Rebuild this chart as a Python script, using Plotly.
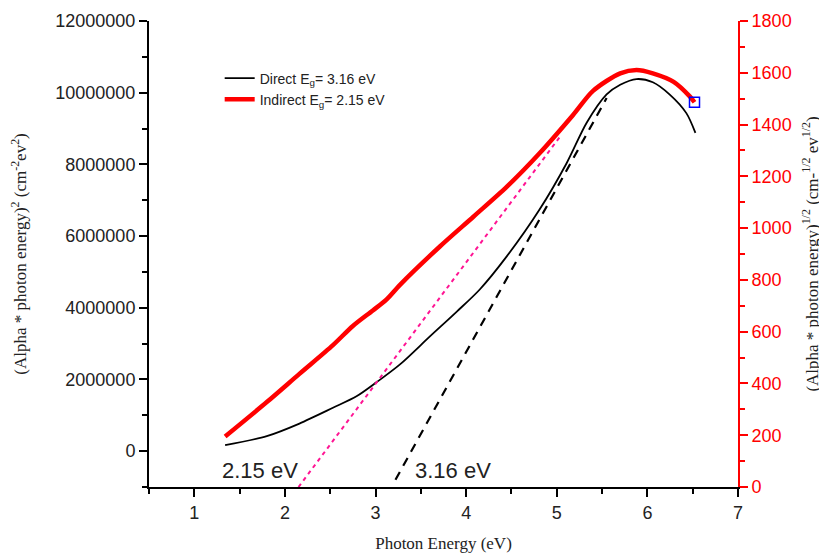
import plotly.graph_objects as go

# ---- data ----
energy_direct = [1.34, 1.80, 2.16, 2.53, 2.79, 3.01, 3.27, 3.60, 3.90, 4.15, 4.45, 4.81,
                 5.11, 5.33, 5.55, 5.70, 5.88, 6.06, 6.25, 6.43, 6.53]
direct_vals = [0.167e6, 0.42e6, 0.77e6, 1.21e6, 1.53e6, 1.92e6, 2.42e6, 3.20e6, 3.90e6,
               4.51e6, 5.44e6, 6.74e6, 8.04e6, 9.16e6, 9.95e6, 10.22e6, 10.38e6,
               10.29e6, 9.94e6, 9.43e6, 8.88e6]

energy_indirect = [1.34, 1.80, 2.16, 2.53, 2.75, 2.97, 3.12, 3.27, 3.71, 4.08, 4.45, 4.81,
                   5.18, 5.40, 5.70, 5.88, 6.06, 6.29, 6.47, 6.52]
indirect_vals = [195, 328, 437, 548, 622, 682, 724, 781, 929, 1044, 1160, 1289,
                 1437, 1530, 1598, 1611, 1598, 1565, 1508, 1486]

direct_fit_x = [3.22, 5.55]
direct_fit_y = [-0.8e6, 9.85e6]
indirect_fit_x = [2.15, 5.05]
indirect_fit_y = [0, 1360]

end_marker_x = [6.52]
end_marker_y = [1486]

x_ticks = [1, 2, 3, 4, 5, 6, 7]
left_ticks = [0, 2000000, 4000000, 6000000, 8000000, 10000000, 12000000]
right_ticks = [0, 200, 400, 600, 800, 1000, 1200, 1400, 1600, 1800]

fig = go.Figure()

fig.add_trace(go.Scatter(x=energy_direct, y=direct_vals, mode="lines",
                         line=dict(color="black", width=1.8, shape="spline", smoothing=0.8),
                         name="Direct E<sub>g</sub>= 3.16 eV"))
fig.add_trace(go.Scatter(x=energy_indirect, y=indirect_vals, mode="lines", yaxis="y2",
                         line=dict(color="#FF0000", width=4.5, shape="spline", smoothing=0.8),
                         name="Indirect E<sub>g</sub>= 2.15 eV"))
fig.add_trace(go.Scatter(x=direct_fit_x, y=direct_fit_y, mode="lines", showlegend=False,
                         line=dict(color="black", width=2.2, dash="9px,7px")))
fig.add_trace(go.Scatter(x=indirect_fit_x, y=indirect_fit_y, mode="lines", yaxis="y2",
                         showlegend=False,
                         line=dict(color="#FF1493", width=2, dash="4px,4px")))
fig.add_trace(go.Scatter(x=end_marker_x, y=end_marker_y, mode="markers", yaxis="y2",
                         showlegend=False,
                         marker=dict(symbol="square-open", color="#0000FF", size=10,
                                     line=dict(width=1.5, color="#0000FF"))))

fig.add_annotation(x=1.73, y=-0.53e6, text="2.15 eV", showarrow=False,
                   font=dict(family="Arial, Liberation Sans", size=22, color="#222"))
fig.add_annotation(x=3.85, y=-0.53e6, text="3.16 eV", showarrow=False,
                   font=dict(family="Arial, Liberation Sans", size=22, color="#222"))

tick_font = dict(family="Arial, Liberation Sans", size=18, color="#222")
title_font = dict(family="Times New Roman, Liberation Serif", size=17, color="#222")

fig.update_layout(
    width=819, height=546,
    margin=dict(l=141, r=89, t=13, b=67, autoexpand=False),
    plot_bgcolor="white", paper_bgcolor="white",
    showlegend=True,
    legend=dict(x=0.12, y=0.911, xanchor="left", yanchor="top",
                bgcolor="rgba(0,0,0,0)", font=dict(family="Arial, Liberation Sans", size=14, color="#222"),
                tracegroupgap=0, itemwidth=30),
    xaxis=dict(range=[0.5, 7], tickvals=x_ticks, ticks="outside", ticklen=8, tickwidth=2,
               tickcolor="black", showline=True, linecolor="black", linewidth=2,
               showgrid=False, zeroline=False, tickfont=tick_font, automargin=False,
               minor=dict(dtick=0.5, ticks="outside", ticklen=5, tickwidth=2, tickcolor="black"),
               title=dict(text="Photon Energy (eV)", font=title_font, standoff=16)),
    yaxis=dict(range=[-1000000, 12000000], tickvals=left_ticks, ticktext=[str(v) for v in left_ticks],
               ticks="outside", ticklen=8, tickwidth=2, tickcolor="black", automargin=False,
               showline=True, linecolor="black", linewidth=2, showgrid=False, zeroline=False,
               tickfont=tick_font,
               minor=dict(dtick=1000000, tick0=0, ticks="outside", ticklen=5, tickwidth=2, tickcolor="black"),
               title=dict(text="(Alpha * photon energy)<sup>2</sup> (cm<sup>-2</sup>ev<sup>2</sup>)",
                          font=title_font, standoff=30)),
    yaxis2=dict(overlaying="y", side="right", range=[0, 1800], tickvals=right_ticks,
                ticks="outside", ticklen=8, tickwidth=2, tickcolor="#FF0000", automargin=False,
                showline=True, linecolor="#FF0000", linewidth=2, showgrid=False, zeroline=False,
                tickfont=dict(family="Arial, Liberation Sans", size=18, color="#FF0000"),
                minor=dict(dtick=100, ticks="outside", ticklen=5, tickwidth=2, tickcolor="#FF0000"),
                title=dict(text="(Alpha * photon energy)<sup>1/2</sup> (cm-<sup>1/2</sup> ev<sup>1/2</sup>)",
                           font=title_font, standoff=15)),
)

fig.write_html("out.html")
